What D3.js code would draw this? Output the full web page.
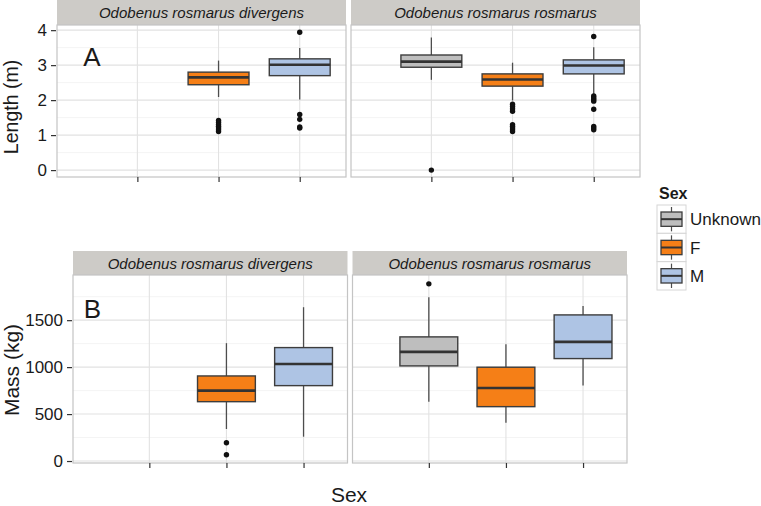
<!DOCTYPE html>
<html><head><meta charset="utf-8">
<script src="https://cdn.jsdelivr.net/npm/d3@7"></script>
<style>body{margin:0;background:#fff} svg{display:block}</style>
</head><body>
<svg id="chart" width="761" height="506"></svg>
<script>
const sexes = ["Unknown", "F", "M"];
const sexColors = ["#bebebe", "#f57f17", "#aec4e4"];
const species = ["Odobenus rosmarus divergens", "Odobenus rosmarus rosmarus"];
const lengthTicks = [0, 1, 2, 3, 4];
const lengthMinor = [0.5, 1.5, 2.5, 3.5];
const massTicks = [0, 500, 1000, 1500];
const massMinor = [250, 750, 1250, 1750];
// [species index, sex, lower whisker, q1, median, q3, upper whisker]
const lengthBoxes = [
  [0, "F", 2.09, 2.44, 2.65, 2.80, 3.13],
  [0, "M", 2.02, 2.70, 3.01, 3.18, 3.49],
  [1, "Unknown", 2.58, 2.94, 3.10, 3.29, 3.79],
  [1, "F", 1.99, 2.40, 2.59, 2.75, 3.07],
  [1, "M", 2.16, 2.75, 2.99, 3.15, 3.51]
];
const lengthOutliers = [
  [0, "F", [1.10, 1.15, 1.20, 1.25, 1.30, 1.36, 1.42]],
  [0, "M", [3.94, 1.59, 1.45, 1.23, 1.20]],
  [1, "Unknown", [0]],
  [1, "F", [1.88, 1.82, 1.75, 1.68, 1.30, 1.25, 1.20, 1.15, 1.10]],
  [1, "M", [3.82, 2.12, 2.07, 2.02, 1.97, 1.74, 1.25, 1.20, 1.15]]
];
const massBoxes = [
  [0, "F", 341, 632, 750, 906, 1255],
  [0, "M", 259, 803, 1034, 1208, 1638],
  [1, "Unknown", 632, 1013, 1162, 1322, 1745],
  [1, "F", 408, 579, 778, 999, 1244],
  [1, "M", 803, 1091, 1269, 1556, 1652]
];
const massOutliers = [
  [0, "F", [195, 67]],
  [1, "Unknown", [1887]]
];

const FONT = "'Liberation Sans', Arial, Helvetica, sans-serif";
const svg = d3.select("#chart").style("font-family", FONT);
const color = d3.scaleOrdinal().domain(sexes).range(sexColors);
const xPos = d3.scaleOrdinal().domain(sexes).range([1, 2, 3]);

function drawRow(cfg) {
  const g = svg.append("g");
  const y = d3.scaleLinear().domain(cfg.yDomain).range([cfg.panelBottom, cfg.panelTop]);
  cfg.panelX.forEach((px, si) => {
    const x = d3.scaleLinear().domain([0.01, 3.57]).range([px, px + cfg.panelW]);
    const unit = x(2) - x(1);
    const pg = g.append("g");
    // strip
    pg.append("rect").attr("x", px).attr("y", cfg.stripTop).attr("width", cfg.panelW)
      .attr("height", cfg.panelTop - cfg.stripTop).attr("fill", "#cdcbc7");
    pg.append("text").attr("x", px + cfg.panelW / 2).attr("y", (cfg.stripTop + cfg.panelTop) / 2 + 5.5)
      .attr("text-anchor", "middle").attr("font-style", "italic").attr("font-size", 15)
      .attr("fill", "#1a1a1a").text(species[si]);
    // panel background
    pg.append("rect").attr("x", px).attr("y", cfg.panelTop).attr("width", cfg.panelW)
      .attr("height", cfg.panelBottom - cfg.panelTop).attr("fill", "#fff");
    // minor grid
    pg.selectAll(".mn").data(cfg.minor).enter().append("line")
      .attr("x1", px).attr("x2", px + cfg.panelW).attr("y1", d => y(d)).attr("y2", d => y(d))
      .attr("stroke", "#f4f4f4").attr("stroke-width", 1);
    // major grid
    pg.selectAll(".mj").data(cfg.ticks).enter().append("line")
      .attr("x1", px).attr("x2", px + cfg.panelW).attr("y1", d => y(d)).attr("y2", d => y(d))
      .attr("stroke", "#e2e2e2").attr("stroke-width", 1.1);
    pg.selectAll(".vx").data(sexes).enter().append("line")
      .attr("x1", d => x(xPos(d))).attr("x2", d => x(xPos(d)))
      .attr("y1", cfg.panelTop).attr("y2", cfg.panelBottom)
      .attr("stroke", "#e2e2e2").attr("stroke-width", 1.1);
    // border
    pg.append("rect").attr("x", px).attr("y", cfg.panelTop).attr("width", cfg.panelW)
      .attr("height", cfg.panelBottom - cfg.panelTop).attr("fill", "none")
      .attr("stroke", "#c4c4c4").attr("stroke-width", 1.2);
    // x ticks (blank labels)
    const xAxis = d3.axisBottom(x).tickValues([1, 2, 3]).tickFormat("").tickSize(5).tickSizeOuter(0);
    const xa = pg.append("g").attr("transform", `translate(0,${cfg.panelBottom})`).call(xAxis);
    xa.select(".domain").remove();
    xa.selectAll(".tick line").attr("stroke", "#333").attr("stroke-width", 1.2);
    // y axis on first panel
    if (si === 0) {
      const yAxis = d3.axisLeft(y).tickValues(cfg.ticks).tickFormat(d3.format("d"))
        .tickSize(5).tickPadding(4).tickSizeOuter(0);
      const ya = pg.append("g").attr("transform", `translate(${px - 1},0)`).call(yAxis);
      ya.select(".domain").remove();
      ya.selectAll(".tick line").attr("stroke", "#333").attr("stroke-width", 1.2);
      ya.selectAll(".tick text").attr("font-size", cfg.tickFont).attr("fill", "#1a1a1a")
        .attr("font-family", FONT);
    }
    // boxes
    const boxes = cfg.boxes.filter(b => b[0] === si);
    const bw = 0.75 * unit;
    boxes.forEach(b => {
      const cx = x(xPos(b[1]));
      const bg = pg.append("g");
      bg.append("line").attr("x1", cx).attr("x2", cx).attr("y1", y(b[6])).attr("y2", y(b[5]))
        .attr("stroke", "#4d4d4d").attr("stroke-width", 1.3);
      bg.append("line").attr("x1", cx).attr("x2", cx).attr("y1", y(b[3])).attr("y2", y(b[2]))
        .attr("stroke", "#4d4d4d").attr("stroke-width", 1.3);
      bg.append("rect").attr("x", cx - bw / 2).attr("width", bw)
        .attr("y", y(b[5])).attr("height", y(b[3]) - y(b[5]))
        .attr("fill", color(b[1])).attr("stroke", "#3d3d3d").attr("stroke-width", 1.4);
      bg.append("line").attr("x1", cx - bw / 2).attr("x2", cx + bw / 2)
        .attr("y1", y(b[4])).attr("y2", y(b[4]))
        .attr("stroke", "#333").attr("stroke-width", 2.6);
    });
    cfg.outliers.filter(o => o[0] === si).forEach(o => {
      const cx = x(xPos(o[1]));
      pg.selectAll(null).data(o[2]).enter().append("circle")
        .attr("cx", cx).attr("cy", d => y(d)).attr("r", 2.7).attr("fill", "#111");
    });
  });
  // y title
  g.append("text").attr("transform", `translate(${cfg.titleX},${cfg.titleY}) rotate(-90)`)
    .attr("text-anchor", "middle").attr("font-size", cfg.titleFont).attr("fill", "#1a1a1a")
    .text(cfg.title);
  // panel letter
  g.append("text").attr("x", cfg.letterX).attr("y", cfg.letterY).attr("text-anchor", "middle")
    .attr("font-size", 26).attr("fill", "#1a1a1a").text(cfg.letter);
}

drawRow({
  panelX: [57, 351], panelW: 289, stripTop: 0, panelTop: 25, panelBottom: 177,
  yDomain: [-0.1975, 4.1475], ticks: lengthTicks, minor: lengthMinor,
  boxes: lengthBoxes, outliers: lengthOutliers, tickFont: 17,
  title: "Length (m)", titleX: 18, titleY: 107, titleFont: 19.5,
  letter: "A", letterX: 92, letterY: 65.5
});
drawRow({
  panelX: [73, 352.5], panelW: 274.5, stripTop: 251, panelTop: 275, panelBottom: 463,
  yDomain: [-21, 1981], ticks: massTicks, minor: massMinor,
  boxes: massBoxes, outliers: massOutliers, tickFont: 17,
  title: "Mass (kg)", titleX: 18.5, titleY: 370, titleFont: 21,
  letter: "B", letterX: 92.5, letterY: 317.5
});

// x title
svg.append("text").attr("x", 349).attr("y", 502).attr("text-anchor", "middle")
  .attr("font-size", 21).attr("fill", "#1a1a1a").text("Sex");

// legend
const lg = svg.append("g");
lg.append("text").attr("x", 659).attr("y", 199).attr("font-weight", "bold")
  .attr("font-size", 16).attr("fill", "#1a1a1a").text("Sex");
const keyY = d3.scaleBand().domain(sexes).range([205, 290]);
sexes.forEach(s => {
  const ky = keyY(s), kh = keyY.bandwidth();
  lg.append("rect").attr("x", 657).attr("y", ky).attr("width", 29).attr("height", kh)
    .attr("fill", "#fff").attr("stroke", "#d6d6d6").attr("stroke-width", 1);
  lg.append("line").attr("x1", 671.5).attr("x2", 671.5).attr("y1", ky + 2).attr("y2", ky + kh - 2)
    .attr("stroke", "#4d4d4d").attr("stroke-width", 1.2);
  lg.append("rect").attr("x", 661).attr("y", ky + 7).attr("width", 21).attr("height", kh - 14)
    .attr("fill", color(s)).attr("stroke", "#3d3d3d").attr("stroke-width", 1.3);
  lg.append("line").attr("x1", 661).attr("x2", 682).attr("y1", ky + kh / 2).attr("y2", ky + kh / 2)
    .attr("stroke", "#333").attr("stroke-width", 2);
  lg.append("text").attr("x", 690).attr("y", ky + kh / 2 + 6).attr("font-size", 17)
    .attr("fill", "#1a1a1a").text(s);
});
</script>
</body></html>
